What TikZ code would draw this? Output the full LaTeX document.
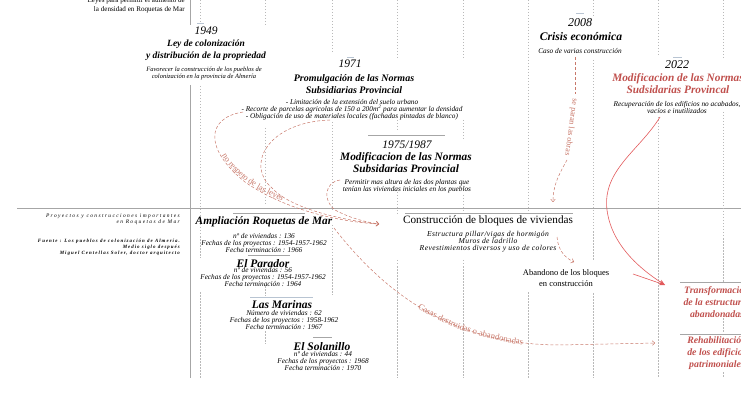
\documentclass[tikz,border=0pt]{standalone}
\usepackage{fontspec}
\setmainfont{Liberation Serif}
\usetikzlibrary{arrows.meta,decorations.text}

\definecolor{brique}{HTML}{C0504D}
\definecolor{rouille}{HTML}{C8786A}
\definecolor{rouge}{HTML}{E25A5C}
\definecolor{bleugris}{HTML}{B8C4D2}

\tikzset{
  annee/.style={font=\fontsize{11.5}{12}\selectfont\itshape, inner sep=0},
  titre/.style={font=\fontsize{10}{12}\selectfont\bfseries\itshape, align=center, inner sep=0},
  grand/.style={font=\fontsize{11.3}{12}\selectfont\bfseries\itshape},
  projet/.style={font=\fontsize{11.5}{12}\selectfont\bfseries\itshape, inner sep=0},
  petit/.style={font=\fontsize{7.3}{7}\selectfont\itshape, align=center, inner sep=0},
  espace/.style={font=\fontsize{5.4}{6.5}\selectfont\itshape\addfontfeature{LetterSpace=26}, align=right, anchor=east, inner sep=0},
  trait/.style={gray!70, line width=0.5pt},
  repere/.style={gray!55, line width=0.4pt, dash pattern=on 1.5pt off 1.5pt},
  fleche/.style={rouille, line width=0.5pt, dash pattern=on 3pt off 2pt, -{To[length=3pt,width=5pt]}},
  plein/.style={rouge, line width=0.6pt, -{Stealth[length=6pt,width=4.5pt]}},
}

\begin{document}
\begin{tikzpicture}[x=1pt,y=-1pt]
\useasboundingbox (0,0) rectangle (741,395);

% reperes du temps
\draw[trait] (190,0) -- (190,25) (190,85) -- (190,378);
\draw[trait] (17,208) -- (741,208);
\foreach \x/\s in {200/{0/23,86/258,292/378}, 265/{0/26,128/205,286/296,331/344},
    332/{0/52,122/210,225/295}, 397/{0/60,120/130,192/215,260/378},
    463/{0/60,120/140,195/213,260/378}, 528/{0/212,292/378}, 593/{0/18,60/260,293/378},
    658/{0/57,117/378}, 723/{0/60,112/282,318/333,372/378}}
  \foreach \a/\b in \s \draw[repere] (\x,\a) -- (\x,\b);
\draw[bleugris, line width=0.5pt] (197,23) -- (204,23) (347,57) -- (354,57) (576,13) -- (584,13)
  (673,57) -- (682,57) (250,297) -- (313,297);
\draw[trait] (368,135) -- (445,135) (233,213) -- (305,213) (248,255) -- (290,255) (313,337) -- (332,337)
  (405,213) -- (573,213) (680,282) -- (741,282) (680,334) -- (741,334);

\node[font=\fontsize{7.1}{8.5}\selectfont, align=right, anchor=east, inner sep=0] (lois) at (185,5.5)
  {Leyes para permitir el aumento de\\la densidad en Roquetas de Mar};

% 1949
\node[annee] (a1949) at (206,31) {1949};
\node[titre, font=\fontsize{9.5}{12}\selectfont\bfseries\itshape] (t1949) at (206,50) {Ley de colonización\\y distribución de la propriedad};
\node[petit, font=\fontsize{6.5}{7}\selectfont\itshape] (n1949) at (204,73.5) {Favorecer la construcción de los pueblos de\\colonización en la provincia de Almería};

% 1971
\node[annee] (a1971) at (350,64) {1971};
\node[titre] (t1971) at (354,84) {Promulgación de las Normas\\Subsidiarias Provincial};
\node[petit] (n1971) at (352,110) {- Limitación de la extensión del suelo urbano\\- Recorte de parcelas agricolas de 150 a 200m\textsuperscript{2} para aumentar la densidad\\- Obligación de uso de materiales locales (fachadas pintadas de blanco)};

% 1975/1987
\node[annee] (a1975) at (407,145) {1975/1987};
\node[titre, grand] (t1975) at (406,163) {Modificacion de las Normas\\Subsidarias Provincial};
\node[petit] (n1975) at (407,186.5) {Permitir mas altura de las dos plantas que\\tenían las viviendas iniciales en los pueblos};

% 2008
\node[annee, font=\fontsize{12}{12}\selectfont\itshape] (a2008) at (580,23) {2008};
\node[titre, font=\fontsize{11.6}{12}\selectfont\bfseries\itshape] (t2008) at (581,37) {Crisis económica};
\node[petit] (n2008) at (580,51) {Caso de varias construcción};

% 2022
\node[annee, font=\fontsize{12}{12}\selectfont\itshape] (a2022) at (677,65) {2022};
\node[titre, grand, brique] (t2022) at (678,84) {Modificacion de las Normas\\Sudsidarias Provincal};
\node[petit] (n2022) at (677,107.5) {Recuperación de los edificios no acabados,\\vacíos e inutilizados};

% proyectos
\node[espace] (proyectos) at (180,219.5) {Proyectos y construcciones importantes\\en Roquetas de Mar};
\node[espace, font=\fontsize{4.9}{6}\selectfont\itshape\bfseries\addfontfeature{LetterSpace=21}] (fuente) at (180,247)
  {Fuente : Los pueblos de colonización de Almería.\\Medio siglo después\\Miguel Centellas Soler, doctor arquitecto};

\node[projet, font=\fontsize{11.3}{12}\selectfont\bfseries\itshape] (ampliacion) at (264,222) {Ampliación Roquetas de Mar};
\node[petit] (n_ampliacion) at (264,243) {nº de viviendas : 136\\Fechas de los proyectos : 1954-1957-1962\\Fecha terminación : 1966};
\node[projet] (parador) at (263,264) {El Parador};
\node[petit] (n_parador) at (263,277.5) {nº de viviendas : 56\\Fechas de los proyectos : 1954-1957-1962\\Fecha terminación : 1964};
\node[projet] (marinas) at (282,305) {Las Marinas};
\node[petit] (n_marinas) at (284,320) {Número de viviendas : 62\\Fechas de los proyectos : 1958-1962\\Fecha terminación : 1967};
\node[projet] (solanillo) at (322,347) {El Solanillo};
\node[petit] (n_solanillo) at (323,361.5) {nº de viviendas : 44\\Fechas de los proyectos : 1968\\Fecha terminación : 1970};

\node[font=\fontsize{11.2}{12}\selectfont, inner sep=0] (bloques) at (488,221) {Construcción de bloques de viviendas};
\node[petit, font=\fontsize{7.6}{7}\selectfont\itshape\addfontfeature{LetterSpace=5}] (n_bloques) at (488,242) {Estructura pillar/vigas de hormigón\\Muros de ladrillo\\Revestimientos diversos y uso de colores};
\node[font=\fontsize{8.5}{11.5}\selectfont, align=center, inner sep=0] (abandono) at (566,278) {Abandono de los bloques\\en construcción};

\node[titre, brique, font=\fontsize{9.8}{12}\selectfont\bfseries\itshape] (transformacion) at (717,302) {Transformación\\de la estructuras\\abandonadas};
\node[titre, brique, font=\fontsize{9.8}{12}\selectfont\bfseries\itshape] (rehabilitacion) at (717,353) {Rehabilitación\\de los edificios\\patrimoniales};

% fleches
\draw[fleche] (243,112) .. controls (205,118) and (205,150) .. (245,182) .. controls (285,210) and (340,222) .. (379,224);
\path[decorate, decoration={text along path, raise=1pt, text align={left indent=62pt},
  text={|\fontsize{8.6}{9}\selectfont\color{rouille}|no respeto de las leyes}}]
  (243,112) .. controls (205,118) and (205,150) .. (245,182) .. controls (285,210) and (340,222) .. (379,224);
\draw[fleche] (330,120) .. controls (268,122) and (245,165) .. (272,188) .. controls (290,208) and (340,220) .. (379,224);
\draw[fleche] (340,180) .. controls (325,182) and (322,200) .. (335,210) .. controls (350,218) and (365,222) .. (379,224);

\draw[fleche] (334,228) .. controls (390,300) and (460,345) .. (560,345) -- (655,343);
\path[decorate, decoration={text along path, raise=-2pt, text align={left indent=116pt},
  text={|\fontsize{8.7}{9}\selectfont\color{rouille}|Casas destruidas o abandonadas}}]
  (334,228) .. controls (390,300) and (460,345) .. (560,345) -- (655,343);

\draw[rouille, line width=0.5pt, dash pattern=on 3pt off 2pt] (575,57) -- (575,94);
\node[rotate=-97.6, font=\fontsize{8.1}{9}\selectfont, text=rouille, inner sep=0] (obras) at (571,127) {se paran las obras};
\draw[fleche] (567,160) .. controls (558,176) and (553,186) .. (553,202);
\draw[fleche] (557,237) .. controls (558,250) and (565,258) .. (574,262);

\draw[plein] (660,117) .. controls (640,150) and (602,170) .. (607,210) .. controls (612,248) and (645,272) .. (665,285);
\draw[plein] (633,274) -- (665,285);
\end{tikzpicture}
\end{document}
